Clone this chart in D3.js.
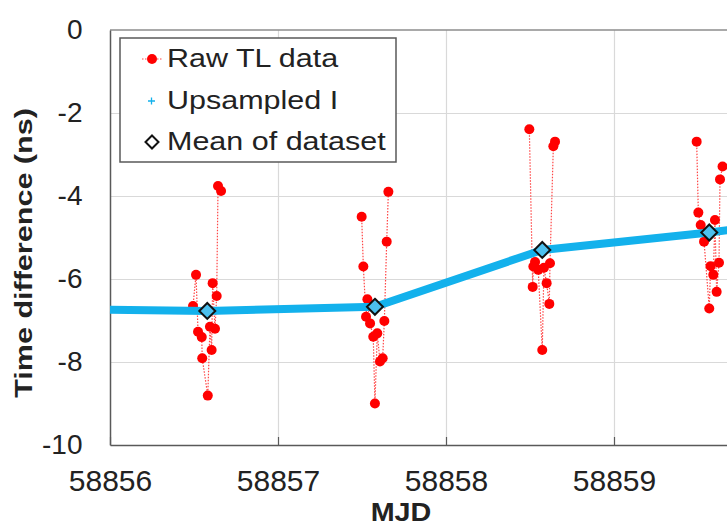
<!DOCTYPE html>
<html>
<head>
<meta charset="utf-8">
<script src="https://cdn.jsdelivr.net/npm/d3@7"></script>
<style>
  body { margin: 0; background: #fff; }
  svg { display: block; font-family: "Liberation Sans", Arial, sans-serif; }
</style>
</head>
<body>
<svg id="chart"></svg>
<script>
// Raw TL data, one array pair per measurement day (MJD, ns)
const rawMjd1 = [58856.494, 58856.512, 58856.524, 58856.546, 58856.549, 58856.582, 58856.595, 58856.605, 58856.611, 58856.625, 58856.635, 58856.643, 58856.661];
const rawVal1 = [-6.65, -5.90, -7.27, -7.40, -7.91, -8.81, -7.15, -7.71, -6.10, -7.20, -6.41, -3.76, -3.88];
const rawMjd2 = [58857.498, 58857.508, 58857.524, 58857.532, 58857.548, 58857.567, 58857.577, 58857.591, 58857.607, 58857.623, 58857.633, 58857.647, 58857.657];
const rawVal2 = [-4.50, -5.70, -6.91, -6.49, -7.07, -7.39, -9.00, -7.31, -7.99, -7.91, -7.01, -5.10, -3.90];
const rawMjd3 = [58858.496, 58858.516, 58858.520, 58858.530, 58858.549, 58858.573, 58858.583, 58858.599, 58858.615, 58858.619, 58858.639, 58858.649];
const rawVal3 = [-2.39, -6.19, -5.70, -5.59, -5.78, -7.71, -5.73, -6.10, -6.60, -5.62, -2.80, -2.69];
const rawMjd4 = [58859.492, 58859.502, 58859.516, 58859.536, 58859.567, 58859.575, 58859.591, 58859.601, 58859.611, 58859.625, 58859.631, 58859.646];
const rawVal4 = [-2.69, -4.40, -4.70, -5.10, -6.71, -5.69, -5.90, -4.58, -6.31, -5.61, -3.60, -3.29];

// upsampled curve and dataset means
const upMjd = [58856, 58856.579, 58857.577, 58858.573, 58859.567, 58860];
const upVal = [-6.74, -6.77, -6.67, -5.30, -4.88, -4.65];
const meanMjd = [58856.579, 58857.577, 58858.573, 58859.567];
const meanVal = [-6.77, -6.67, -5.30, -4.88];

const xTicks = [58856, 58857, 58858, 58859];
const yTicks = [0, -2, -4, -6, -8, -10];
const legendLabels = ["Raw TL data", "Upsampled I", "Mean of dataset"];

class TimeDiffChart {

  constructor(_config) {
    this.config = {
      parentElement: _config.parentElement,
      containerWidth: _config.containerWidth || 727,
      containerHeight: _config.containerHeight || 527,
      margin: {top: 30, left: 110, bottom: 82}
    }
    this.initVis();
  }

  initVis() {
    let vis = this;
    const m = vis.config.margin;
    const width = vis.config.containerWidth;
    const height = vis.config.containerHeight;

    vis.svg = d3.select(vis.config.parentElement)
      .attr('width', width)
      .attr('height', height);

    // plot runs past the right edge of the picture (58860 is cut off)
    vis.xScale = d3.scaleLinear()
      .domain([58856, 58860])
      .range([m.left, m.left + 4 * 168]);

    vis.yScale = d3.scaleLinear()
      .domain([-10, 0])
      .range([height - m.bottom, m.top]);

    const plotBottom = height - m.bottom;

    // grid
    vis.svg.append('g')
      .attr('transform', `translate(0, ${plotBottom})`)
      .call(d3.axisBottom(vis.xScale).tickValues(xTicks.slice(1)).tickSize(-(plotBottom - m.top)).tickFormat(''))
      .call(g => g.select('.domain').remove())
      .call(g => g.selectAll('line').attr('stroke', '#d9d9d9').attr('stroke-width', 1.2));

    vis.svg.append('g')
      .attr('transform', `translate(${m.left}, 0)`)
      .call(d3.axisLeft(vis.yScale).tickValues(yTicks.slice(1, -1)).tickSize(-(width - m.left)).tickFormat(''))
      .call(g => g.select('.domain').remove())
      .call(g => g.selectAll('line').attr('stroke', '#d9d9d9').attr('stroke-width', 1.2));

    // top frame
    vis.svg.append('line')
      .attr('x1', m.left).attr('x2', width)
      .attr('y1', m.top).attr('y2', m.top)
      .attr('stroke', '#8c8c8c').attr('stroke-width', 1.5);

    // axes
    vis.svg.append('g')
      .attr('transform', `translate(0, ${plotBottom})`)
      .call(d3.axisBottom(vis.xScale).tickValues(xTicks).tickFormat(d => String(d))
        .tickSizeInner(-8).tickSizeOuter(0).tickPadding(25))
      .call(g => g.select('.domain').attr('stroke', '#595959').attr('stroke-width', 1.5))
      .call(g => g.selectAll('.tick line').attr('stroke', '#595959').attr('stroke-width', 1.2))
      .call(g => g.selectAll('text').attr('fill', '#222').style('font-size', '30px'));

    vis.svg.append('g')
      .attr('transform', `translate(${m.left}, 0)`)
      .call(d3.axisLeft(vis.yScale).tickValues(yTicks).tickFormat(d => String(d)).tickSize(0).tickPadding(27.5))
      .call(g => g.select('.domain').attr('stroke', '#595959').attr('stroke-width', 1.5))
      .call(g => g.selectAll('text').attr('fill', '#222').style('font-size', '28px'));

    // axis titles
    vis.svg.append('text')
      .attr('transform', `translate(401, 521) scale(1.15, 1)`)
      .attr('text-anchor', 'middle')
      .style('font-size', '25px')
      .style('font-weight', 'bold')
      .attr('fill', '#222')
      .text('MJD');

    vis.svg.append('text')
      .attr('transform', `translate(32, 253) rotate(-90) scale(1.3, 1)`)
      .attr('text-anchor', 'middle')
      .style('font-size', '23.5px')
      .style('font-weight', 'bold')
      .attr('fill', '#222')
      .text('Time difference (ns)');

    vis.updateVis();
  }

  updateVis() {
    let vis = this;
    const x = vis.xScale, y = vis.yScale;

    const days = [[rawMjd1, rawVal1], [rawMjd2, rawVal2], [rawMjd3, rawVal3], [rawMjd4, rawVal4]]
      .map(([ms, vs]) => ms.map((d, i) => ({mjd: d, val: vs[i]})));

    const rawLine = d3.line().x(d => x(d.mjd)).y(d => y(d.val));

    vis.svg.selectAll('.raw-line')
      .data(days)
      .enter()
      .append('path')
      .attr('class', 'raw-line')
      .attr('d', rawLine)
      .attr('fill', 'none')
      .attr('stroke', '#ff4545')
      .attr('stroke-width', 1.2)
      .attr('stroke-dasharray', '1.5,1.5');

    vis.svg.selectAll('.raw-dot')
      .data(days.flat())
      .enter()
      .append('circle')
      .attr('class', 'raw-dot')
      .attr('cx', d => x(d.mjd))
      .attr('cy', d => y(d.val))
      .attr('r', 5)
      .attr('fill', '#ff0000');

    // upsampled I
    const upData = upMjd.map((d, i) => ({mjd: d, val: upVal[i]}));
    vis.svg.append('path')
      .datum(upData)
      .attr('d', d3.line().x(d => x(d.mjd)).y(d => y(d.val)))
      .attr('fill', 'none')
      .attr('stroke', '#13b1ec')
      .attr('stroke-width', 8)
      .attr('stroke-linejoin', 'round');

    const diamond = s => `M0,${-s}L${s},0L0,${s}L${-s},0Z`;

    vis.svg.selectAll('.mean')
      .data(meanMjd.map((d, i) => ({mjd: d, val: meanVal[i]})))
      .enter()
      .append('path')
      .attr('class', 'mean')
      .attr('transform', d => `translate(${x(d.mjd)}, ${y(d.val)})`)
      .attr('d', diamond(8))
      .attr('fill', '#4cc0ee')
      .attr('stroke', '#111')
      .attr('stroke-width', 2);

    // legend
    const lg = vis.svg.append('g');
    lg.append('rect')
      .attr('x', 120).attr('y', 38)
      .attr('width', 276).attr('height', 124)
      .attr('fill', '#fff')
      .attr('stroke', '#595959')
      .attr('stroke-width', 1.5);

    lg.selectAll('text')
      .data(legendLabels)
      .enter()
      .append('text')
      .attr('transform', (d, i) => `translate(167, ${67 + i * 41.5}) scale(1.22, 1)`)
      .style('font-size', '25px')
      .attr('fill', '#222')
      .text(d => d);

    lg.append('line')
      .attr('x1', 142).attr('x2', 163).attr('y1', 59).attr('y2', 59)
      .attr('stroke', '#ff4545').attr('stroke-width', 1.2).attr('stroke-dasharray', '1.5,1.5');
    lg.append('circle').attr('cx', 152).attr('cy', 59).attr('r', 5).attr('fill', '#ff0000');

    lg.append('path')
      .attr('d', 'M148,101H155M151.5,97.5V104.5')
      .attr('stroke', '#13b1ec').attr('stroke-width', 1.3);

    lg.append('path')
      .attr('transform', 'translate(152, 142)')
      .attr('d', diamond(6.5))
      .attr('fill', '#fff')
      .attr('stroke', '#111')
      .attr('stroke-width', 2);
  }
}

new TimeDiffChart({parentElement: '#chart', containerWidth: 727, containerHeight: 527});
</script>
</body>
</html>
